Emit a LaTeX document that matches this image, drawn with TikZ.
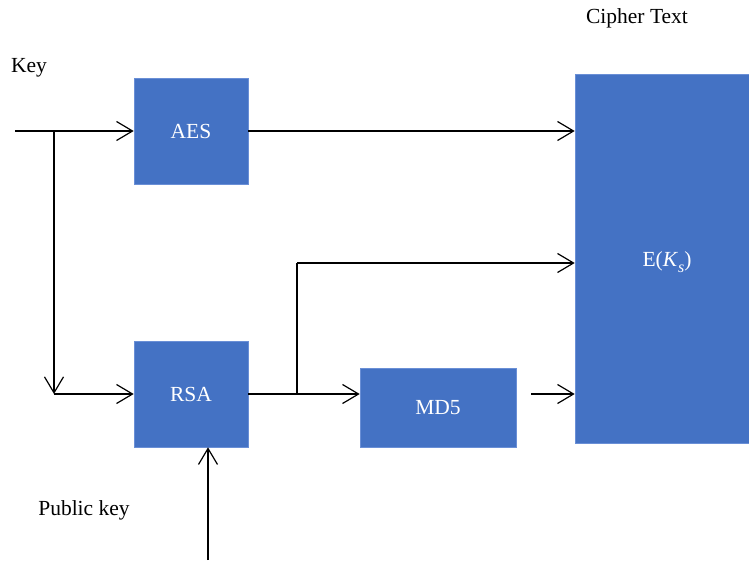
\documentclass[tikz,border=0pt]{standalone}
\usepackage{fontspec}
\setmainfont{Liberation Serif}
\usetikzlibrary{arrows.meta}
\definecolor{boxblue}{HTML}{4472C4}
\definecolor{boxedge}{HTML}{6A8FD6}
\begin{document}
\begin{tikzpicture}[x=1pt,y=-1pt,
  font=\fontsize{21.5}{25}\selectfont,
  block/.style={fill=boxblue,draw=boxedge,line width=0.6pt,text=white,inner sep=0pt},
  flow/.style={line width=1.2pt,-{Straight Barb[length=16pt,width=19pt,line width=1.2pt]}},
  wire/.style={line width=1.2pt},
  lbl/.style={inner sep=0pt,text=black}]
\useasboundingbox (0,0) rectangle (749,560);

% processing blocks
\node[block,minimum width=114pt,minimum height=106pt] (aes) at (191,131) {AES};
\node[block,minimum width=114pt,minimum height=106pt] (rsa) at (191,394) {RSA};
\node[block,minimum width=156pt,minimum height=79pt] (md5) at (438,407.5) {MD5};
\node[block,minimum width=176pt,minimum height=369pt] (enc) at (663,258.5) {};
\node[lbl,text=white] (enctext) at (667,262) {E(\textit{K}\raisebox{-0.55ex}{\fontsize{16}{18}\selectfont\textit{s}})};

% labels
\node[lbl] (key) at (29,68) {Key};
\node[lbl] (pub) at (84,510) {Public key};
\node[lbl] (ct) at (637,18) {Cipher Text};

% junction points and free ends
\coordinate (kin) at (15,131);
\coordinate (ksplit) at (54,131);
\coordinate (kdown) at (54,394);
\coordinate (rsplit) at (297,394);
\coordinate (rup) at (297,263);
\coordinate (mdout) at (531,394);
\coordinate (pin) at (208,560);

% key path
\draw[flow] (kin) -- (aes.west);
\draw[flow] (ksplit) -- (kdown);
\draw[flow] (kdown) -- (rsa.west |- kdown);

% AES output to cipher text
\draw[flow] (aes.east) -- (enc.west |- aes.east);

% RSA outputs
\draw[flow] (rsa.east |- rsplit) -- (md5.west |- rsplit);
\draw[wire] (rsplit) -- (rup);
\draw[flow] (rup) -- (enc.west |- rup);

% MD5 digest into cipher text
\draw[flow] (mdout) -- (enc.west |- mdout);

% public key into RSA
\draw[flow] (pin) -- (pin |- rsa.south);
\end{tikzpicture}
\end{document}
